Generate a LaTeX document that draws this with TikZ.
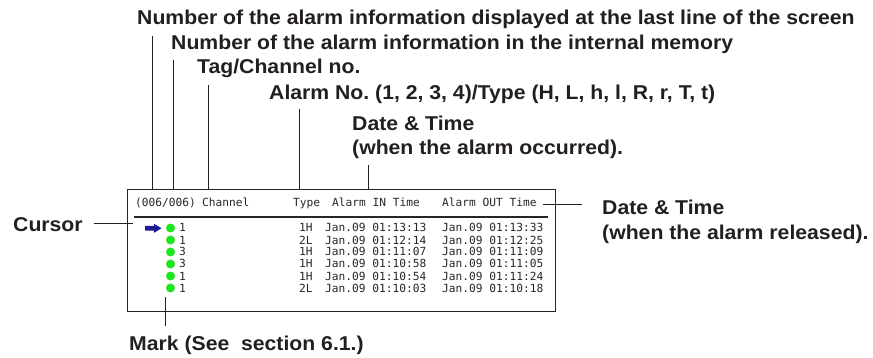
\documentclass[tikz,border=0pt]{standalone}
\usepackage{fontspec}
\newfontfamily\labfont[FakeStretch=1.06]{Liberation Sans Bold}
\newfontfamily\lcdfont{DejaVu Sans Mono}
\definecolor{markgreen}{HTML}{1EE61E}
\definecolor{curblue}{HTML}{1C1C96}
\definecolor{labgray}{HTML}{231F20}
\frenchspacing
\begin{document}
\begin{tikzpicture}[x=1pt,y=-1pt,
  lab/.style={inner sep=0pt, anchor=base west, font=\labfont\fontsize{20}{24}\selectfont, text=labgray},
  lcd/.style={inner sep=0pt, anchor=base west, font=\lcdfont\fontsize{11.2}{12}\selectfont, text=black!85},
  conn/.style={line width=0.9pt, draw=labgray},
  markdot/.style={circle, fill=markgreen, inner sep=0pt, minimum size=9pt},
  screenbox/.style={draw=black!85, line width=1.2pt, inner sep=0pt, anchor=north west}]
\useasboundingbox (0,0) rectangle (873,358);

% labels
\node[lab] (t1) at (137,25) {Number of the alarm information displayed at the last line of the screen};
\node[lab] (t2) at (171,50) {Number of the alarm information in the internal memory};
\node[lab] (t3) at (197,74) {Tag/Channel no.};
\node[lab] (t4) at (269,100) {Alarm No. (1, 2, 3, 4)/Type (H, L, h, l, R, r, T, t)};
\node[lab] (t5) at (352,131) {Date \& Time};
\node[lab] (t6) at (352,155) {(when the alarm occurred).};
\node[lab] (r1) at (602,215) {Date \& Time};
\node[lab] (r2) at (602,239.5) {(when the alarm released).};
\node[lab] (cur) at (13,232) {Cursor};
\node[lab] (mark) at (129,350) {Mark (See\ \ section 6.1.)};

% screen
\node[screenbox, minimum width=428pt, minimum height=122pt] (screen) at (127,189) {};
\draw[line width=1.5pt, black!85] (134,217) -- (548,217);

\node[lcd] (hcnt) at (135,207) {(006/006)};
\node[lcd] (hch) at (202,207) {Channel};
\node[lcd] (htype) at (293,207) {Type};
\node[lcd] (hin) at (332,207) {Alarm IN Time};
\node[lcd] (hout) at (442,207) {Alarm OUT Time};

\foreach \ch/\ty/\tin/\tout [count=\i] in {
  1/1H/01:13:13/01:13:33,
  1/2L/01:12:14/01:12:25,
  3/1H/01:11:07/01:11:09,
  3/1H/01:10:58/01:11:05,
  1/1H/01:10:54/01:11:24,
  1/2L/01:10:03/01:10:18} {
  \pgfmathsetmacro\yy{232+12*(\i-1)}
  \node[markdot] (d\i) at (170.5,{\yy-4}) {};
  \node[lcd] (c\i) at (179,\yy) {\ch};
  \node[lcd] (ty\i) at (299,\yy) {\ty};
  \node[lcd] (in\i) at (325,\yy) {Jan.09 \tin};
  \node[lcd] (out\i) at (442,\yy) {Jan.09 \tout};
}

% cursor arrow
\fill[curblue] (145,226) -- (154,226) -- (154,223.8) -- (161.5,228.3)
  -- (154,232.8) -- (154,230.6) -- (145,230.6) -- cycle;

% connectors
\coordinate (v1) at (152.5,36);
\coordinate (v2) at (173.5,60);
\coordinate (v3) at (208.5,85);
\coordinate (v4) at (299,109);
\coordinate (v5) at (368.5,165);
\foreach \v in {v1,v2,v3,v4,v5} \draw[conn] (\v) -- (\v |- screen.north);

\coordinate (cs) at (94,223.5);
\coordinate (ce) at (133,223.5);
\draw[conn] (cs) -- (ce);

\coordinate (rs) at (543,204);
\coordinate (re) at (582,204);
\draw[conn] (rs) -- (re);

\coordinate (ms) at (165,297);
\coordinate (me) at (165,326);
\draw[conn] (ms) -- (me);
\end{tikzpicture}
\end{document}
